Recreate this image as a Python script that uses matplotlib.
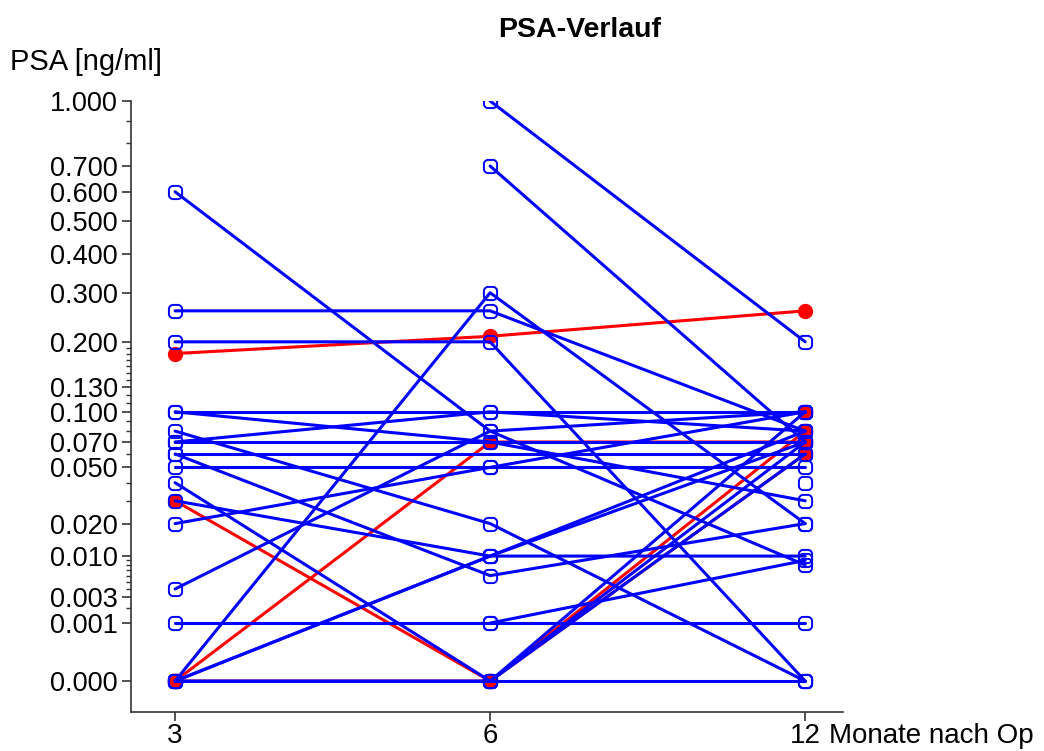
import numpy as np
import matplotlib
matplotlib.use("Agg")
import matplotlib.pyplot as plt
from matplotlib.path import Path

# %%
# Data (PSA in ng/ml, nan = no value at that visit)
months = ["3", "6", "12"]

blue_3m = [0.6, 0.26, 0.2, 0.1, 0.1, 0.08, 0.07, 0.07, 0.06, 0.06, 0.05, 0.04,
           0.03, 0.02, 0.004, 0.001, np.nan, 0.0, 0.0, 0.0, 0.0, 0.0,
           np.nan, np.nan, np.nan, np.nan]
blue_6m = [0.08, 0.26, 0.2, 0.1, 0.07, 0.02, 0.1, 0.07, np.nan, 0.006, 0.05, 0.0,
           0.01, 0.05, 0.08, 0.001, 0.001, 0.3, 0.01, 0.01, 0.0, 0.0,
           1.0, 0.7, 0.0, np.nan]
blue_12m = [0.008, 0.08, 0.0, 0.1, 0.03, 0.0, 0.08, 0.07, 0.06, 0.02, 0.05, 0.07,
            0.01, 0.1, 0.1, 0.001, 0.009, 0.02, 0.08, 0.07, 0.0, 0.06,
            0.2, 0.07, 0.1, 0.04]

red_3m = [0.18, 0.03, 0.0, 0.0, np.nan]
red_6m = [0.21, 0.0, 0.07, 0.0, np.nan]
red_12m = [0.26, 0.08, 0.07, 0.06, 0.1]

y_major = [0.0, 0.001, 0.003, 0.01, 0.02, 0.05, 0.07, 0.1, 0.13, 0.2,
           0.3, 0.4, 0.5, 0.6, 0.7, 1.0]
y_minor = [0.002, 0.004, 0.005, 0.006, 0.007, 0.008, 0.009, 0.03, 0.04, 0.06,
           0.08, 0.09, 0.11, 0.12, 0.14, 0.15, 0.16, 0.17, 0.18, 0.19, 0.8, 0.9]

plt.rcParams["font.family"] = ["Liberation Sans", "DejaVu Sans"]

# rounded square used for the open blue markers
r, k = 0.32, 0.55
c = 0.5 - r
verts = [(-c, -0.5), (c, -0.5),
         (c + r * k, -0.5), (0.5, -c - r * k), (0.5, -c),
         (0.5, c),
         (0.5, c + r * k), (c + r * k, 0.5), (c, 0.5),
         (-c, 0.5),
         (-c - r * k, 0.5), (-0.5, c + r * k), (-0.5, c),
         (-0.5, -c),
         (-0.5, -c - r * k), (-c - r * k, -0.5), (-c, -0.5),
         (-c, -0.5)]
codes = ([Path.MOVETO, Path.LINETO] + [Path.CURVE4] * 3 + [Path.LINETO]
         + [Path.CURVE4] * 3 + [Path.LINETO] + [Path.CURVE4] * 3
         + [Path.LINETO] + [Path.CURVE4] * 3 + [Path.CLOSEPOLY])
round_sq = Path(verts, codes)

fig = plt.figure(figsize=(10.44, 7.51), dpi=100)
ax = fig.add_axes([131 / 1044, 1 - 712 / 751, (843 - 131) / 1044, (712 - 101) / 751])

# cube-root axis, so that 0 can be shown
ax.set_yscale("function", functions=(np.cbrt, lambda v: v ** 3))


def draw(vals3, vals6, vals12, color, **mk):
    for trio in zip(vals3, vals6, vals12):
        xs = [i for i, v in enumerate(trio) if not np.isnan(v)]
        ys = [v for v in trio if not np.isnan(v)]
        ax.plot(xs, ys, color=color, lw=2.2, solid_capstyle="round", **mk)


draw(red_3m, red_6m, red_12m, "#ff0000",
     marker="o", ms=10, mfc="#ff0000", mec="#ff0000")
draw(blue_3m, blue_6m, blue_12m, "#0000ff",
     marker=round_sq, ms=9.5, mfc="none", mec="#0000ff", mew=1.4)

ax.set_xlim(-0.14, 2.12)
ax.set_ylim(-0.000152, 1.0)

ax.set_yticks(y_major)
ax.set_yticklabels([f"{v:.3f}" for v in y_major], fontsize=19.5)
ax.set_yticks(y_minor, minor=True)
ax.set_xticks([0, 1, 2])
ax.set_xticklabels(months, fontsize=20)
ax.tick_params(axis="both", which="major", direction="out", length=6.5, width=1.2,
               color="#333333")
ax.tick_params(axis="y", which="minor", direction="out", length=3.5, width=1.0,
               color="#333333")
ax.tick_params(axis="x", pad=1.5)
ax.tick_params(axis="y", pad=3)

for side in ["top", "right"]:
    ax.spines[side].set_visible(False)
for side in ["left", "bottom"]:
    ax.spines[side].set_linewidth(1.2)
    ax.spines[side].set_color("#333333")

ax.annotate("Monate nach Op", xy=(2, 0), xycoords=ax.get_xaxis_transform(),
            xytext=(24, -11.1), textcoords="offset pixels",
            fontsize=20, va="top", ha="left", annotation_clip=False)
fig.text(10 / 1044, 1 - 62 / 751, "PSA [ng/ml]", fontsize=21, va="center", ha="left")
fig.text(580 / 1044, 1 - 30 / 751, "PSA-Verlauf", fontsize=20.5, fontweight="bold",
         va="center", ha="center")

fig.savefig("out.png", dpi=100)
